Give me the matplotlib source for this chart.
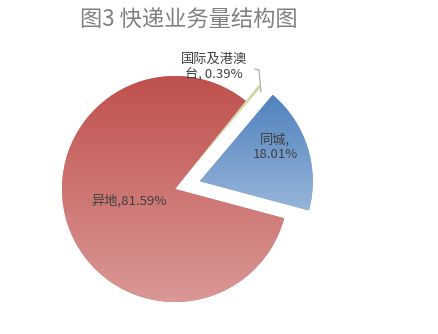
import matplotlib
matplotlib.use("Agg")
import matplotlib.pyplot as plt
import numpy as np
from matplotlib.colors import to_rgb

plt.rcParams['font.family'] = ['Noto Sans CJK SC', 'DejaVu Sans']

# ---- data ----
categories = ['同城', '国际及港澳台', '异地']
shares = [18.01, 0.39, 81.59]
label_texts = ['同城,\n18.01%', '国际及港澳\n台, 0.39%', '异地,81.59%']
title = '图3 快递业务量结构图'

# ---- styles ----
top_colors = ['#4F81BD', '#C9D9A0', '#BF504D']
bottom_colors = ['#97B5D9', '#E3ECCB', '#DA9896']
RADIUS = 113
explode = [0.23 * RADIUS, 0.18 * RADIUS, 0.0]

W, H = 439, 334
fig = plt.figure(figsize=(W / 100, H / 100), dpi=100)
ax = fig.add_axes([0, 0, 1, 1])

mid_colors = [tuple((np.array(to_rgb(a)) + np.array(to_rgb(b))) / 2)
              for a, b in zip(top_colors, bottom_colors)]
wedges, _ = ax.pie(shares, explode=explode, startangle=-15, counterclock=True,
                   center=(175, 145), radius=RADIUS, colors=mid_colors,
                   wedgeprops=dict(linewidth=0))

# vertical gradient fill for each wedge
for w, tc, bc in zip(wedges, top_colors, bottom_colors):
    ext = w.get_path().get_extents()
    n = 256
    t = np.linspace(0, 1, n)[:, None]
    c0 = np.array(to_rgb(tc)); c1 = np.array(to_rgb(bc))
    img = (c0[None, :] * (1 - t) + c1[None, :] * t)[:, None, :]
    im = ax.imshow(img, extent=[ext.x0, ext.x1, ext.y0, ext.y1], origin='upper',
                   aspect='auto', interpolation='bilinear', zorder=w.get_zorder() + 0.1)
    im.set_clip_path(w)

ax.set_xlim(0, W)
ax.set_ylim(0, H)
ax.set_aspect('equal')
ax.axis('off')

# labels
lab_pos = [(275, 187), (214, 267), (129, 133)]
for txt, (x, y) in zip(label_texts, lab_pos):
    ax.text(x, y, txt, ha='center', va='center', fontsize=9.5, color='#404040',
            linespacing=1.15, zorder=5)

# leader line for the small slice
ax.plot([255, 259, 261], [H - 69, H - 70, H - 92], color='#A6A6A6', lw=0.8, zorder=4)

fig.text(189 / W, 1 - 20 / H, title, ha='center', va='center', fontsize=16,
         color='#808080')

fig.savefig('out.png', dpi=100)
